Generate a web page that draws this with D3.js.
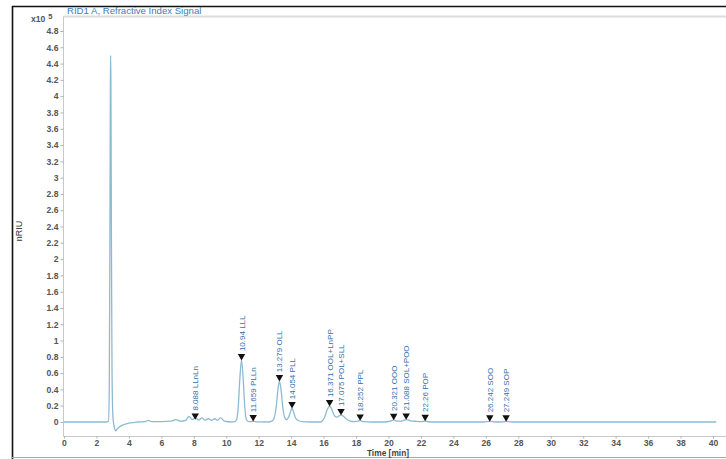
<!DOCTYPE html>
<html><head><meta charset="utf-8">
<script src="https://cdn.jsdelivr.net/npm/d3@7"></script>
<style>body{margin:0;background:#fff}svg{display:block}text{font-family:"Liberation Sans",Arial,sans-serif}</style>
</head><body><svg id="c" width="726" height="459"></svg>
<script>
// chromatogram trace: time (min) and signal (x10^5 nRIU)
const times  = [0, 2.6, 2.74, 2.79, 2.83, 2.86, 2.875, 2.89, 2.92, 2.96, 3.02, 3.1, 3.18, 3.3, 3.5, 3.8, 4.1, 4.5,
  5.0, 5.2, 5.4, 6.0, 6.6, 6.9, 7.2, 7.5, 7.7, 7.9, 8.09, 8.3, 8.5, 8.7, 8.9, 9.1, 9.3, 9.45, 9.65, 9.9, 10.3, 10.54,
  10.64, 10.74, 10.84, 10.94, 11.04, 11.14, 11.24, 11.34, 11.5, 11.66, 11.9, 12.6, 12.88, 12.98, 13.08, 13.18, 13.28, 13.38, 13.48, 13.58, 13.7, 13.82,
  13.95, 14.05, 14.15, 14.27, 14.45, 14.7, 15.2, 15.8, 15.95, 16.07, 16.2, 16.3, 16.37, 16.45, 16.57, 16.7, 16.83, 16.95, 17.08, 17.22, 17.38, 17.6, 17.9,
  18.1, 18.25, 18.45, 19.0, 19.8, 20.1, 20.32, 20.55, 20.8, 21.09, 21.35, 21.7, 22.0, 22.26, 22.6, 25.9, 26.24, 26.6, 27.0, 27.25, 27.6, 40.2];
const signal = [0, 0, 0.01, 0.4, 2.3, 4.2, 4.5, 4.2, 2.4, 0.6, 0.05, -0.06, -0.11, -0.08, -0.05, -0.025, -0.01, 0,
  0.005, 0.02, 0.005, 0.005, 0.01, 0.03, 0.01, 0.02, 0.07, 0.03, 0.05, 0.025, 0.05, 0.02, 0.04, 0.02, 0.04, 0.02, 0.05, 0.01, 0.0, 0.005,
  0.03, 0.19, 0.54, 0.76, 0.54, 0.19, 0.03, 0.008, 0.004, 0.01, 0.002, 0.0, 0.02, 0.07, 0.19, 0.39, 0.5, 0.39, 0.19, 0.07, 0.03, 0.05,
  0.12, 0.17, 0.12, 0.05, 0.015, 0.004, 0.0, 0.0, 0.02, 0.06, 0.14, 0.18, 0.195, 0.18, 0.12, 0.07, 0.06, 0.075, 0.085, 0.07, 0.04, 0.015, 0.005,
  0.01, 0.018, 0.005, 0.0, 0.0, 0.01, 0.025, 0.01, 0.012, 0.03, 0.015, 0.008, 0.005, 0.012, 0.0, 0.0, 0.008, 0.0, 0.0, 0.008, 0.0, 0.0];

// peak annotations
const peakTimes   = [8.088, 10.94, 11.659, 13.279, 14.054, 16.371, 17.075, 18.252, 20.321, 21.088, 22.26, 26.242, 27.249];
const peakHeights = [0.03, 0.76, 0.01, 0.5, 0.17, 0.195, 0.085, 0.018, 0.025, 0.03, 0.012, 0.008, 0.008];
const peakLabels  = ["8.088 LLnLn", "10.94 LLL", "11.659 PLLn", "13.279 OLL", "14.054 PLL", "16.371 OOL+LnPP", "17.075 POL+SLL",
  "18.252 PPL", "20.321 OOO", "21.088 SOL+POO", "22.26 POP", "26.242 SOO", "27.249 SOP"];

const xTicks = [0,2,4,6,8,10,12,14,16,18,20,22,24,26,28,30,32,34,36,38,40];
const yTicks = [0,0.2,0.4,0.6,0.8,1,1.2,1.4,1.6,1.8,2,2.2,2.4,2.6,2.8,3,3.2,3.4,3.6,3.8,4,4.2,4.4,4.6,4.8];
const yTickLabels = ["0","0.2","0.4","0.6","0.8","1","1.2","1.4","1.6","1.8","2","2.2","2.4","2.6","2.8","3","3.2","3.4","3.6","3.8","4","4.2","4.4","4.6","4.8"];

const svg = d3.select("#c");
const L = 63.5, R = 726, T = 16.5, B = 436.5;
const x = d3.scaleLinear().domain([0, 40]).range([64, 713]);
const y = d3.scaleLinear().domain([0, 4.8]).range([422, 31]);

// outer frame
svg.append("line").attr("x1",12).attr("x2",726).attr("y1",6.5).attr("y2",6.5).attr("stroke","#111").attr("stroke-width",1.6);
svg.append("line").attr("x1",12.5).attr("x2",12.5).attr("y1",6).attr("y2",459).attr("stroke","#111").attr("stroke-width",1.6);
svg.append("line").attr("x1",12).attr("x2",726).attr("y1",457.5).attr("y2",457.5).attr("stroke","#aaa").attr("stroke-width",1);
// title band line
svg.append("line").attr("x1",L).attr("x2",R).attr("y1",T).attr("y2",T).attr("stroke","#dcdcdc").attr("stroke-width",2);

svg.append("text").attr("x",67).attr("y",13.5).attr("font-size",9.6).attr("fill","#3d7dbd").text("RID1 A, Refractive Index Signal");

// axes
const gx = svg.append("g").attr("transform",`translate(0,${B})`)
  .call(d3.axisBottom(x).tickValues(xTicks).tickFormat(d3.format("d")).tickSize(2).tickPadding(1.5));
const gy = svg.append("g").attr("transform",`translate(${L},0)`)
  .call(d3.axisLeft(y).tickValues(yTicks).tickFormat((d,i)=>yTickLabels[i]).tickSize(3).tickPadding(2));
gx.select(".domain").attr("d",`M${L},0H${R}`);
gy.select(".domain").attr("d",`M0,${T}V${B}`);
[gx, gy].forEach(g=>{
  g.selectAll(".domain").attr("stroke","#c8c8c8");
  g.selectAll(".tick line").attr("stroke","#b0b0b0");
  g.selectAll(".tick text").attr("fill","#555").attr("font-size",8.6).attr("font-weight","bold")
    .attr("font-family","Liberation Sans, Arial, sans-serif");
});

// units / axis titles
const ex = svg.append("text").attr("x",31).attr("y",22).attr("font-size",8.6).attr("font-weight","bold").attr("fill","#555");
ex.append("tspan").text("x10");
ex.append("tspan").attr("dx",3).attr("dy",-3).attr("font-size",7.5).text("5");
svg.append("text").attr("transform","translate(22,231) rotate(-90)").attr("text-anchor","middle")
  .attr("font-size",9).attr("fill","#333").text("nRIU");
svg.append("text").attr("x",388).attr("y",456).attr("text-anchor","middle").attr("font-size",8.4)
  .attr("font-weight","bold").attr("fill","#444").text("Time [min]");

// trace
const pts = times.map((t,i)=>[t, signal[i]]);
svg.append("path").datum(pts)
  .attr("d", d3.line().x(d=>x(d[0])).y(d=>y(d[1])).curve(d3.curveMonotoneX))
  .attr("fill","none").attr("stroke","#8dbad3").attr("stroke-width",1.3);

// peak markers
const sym = d3.symbol().type(d3.symbolTriangle).size(24);
const gm = svg.append("g");
peakTimes.forEach((t,i)=>{
  const px = x(t), py = y(peakHeights[i]) - 4;
  gm.append("path").attr("d", sym()).attr("transform",`translate(${px},${py}) rotate(180)`).attr("fill","#111");
  gm.append("text").attr("transform",`translate(${px+3},${py-5}) rotate(-90)`)
    .attr("font-size",8).attr("fill","#2f6fb0").text(peakLabels[i]);
});
</script></body></html>
